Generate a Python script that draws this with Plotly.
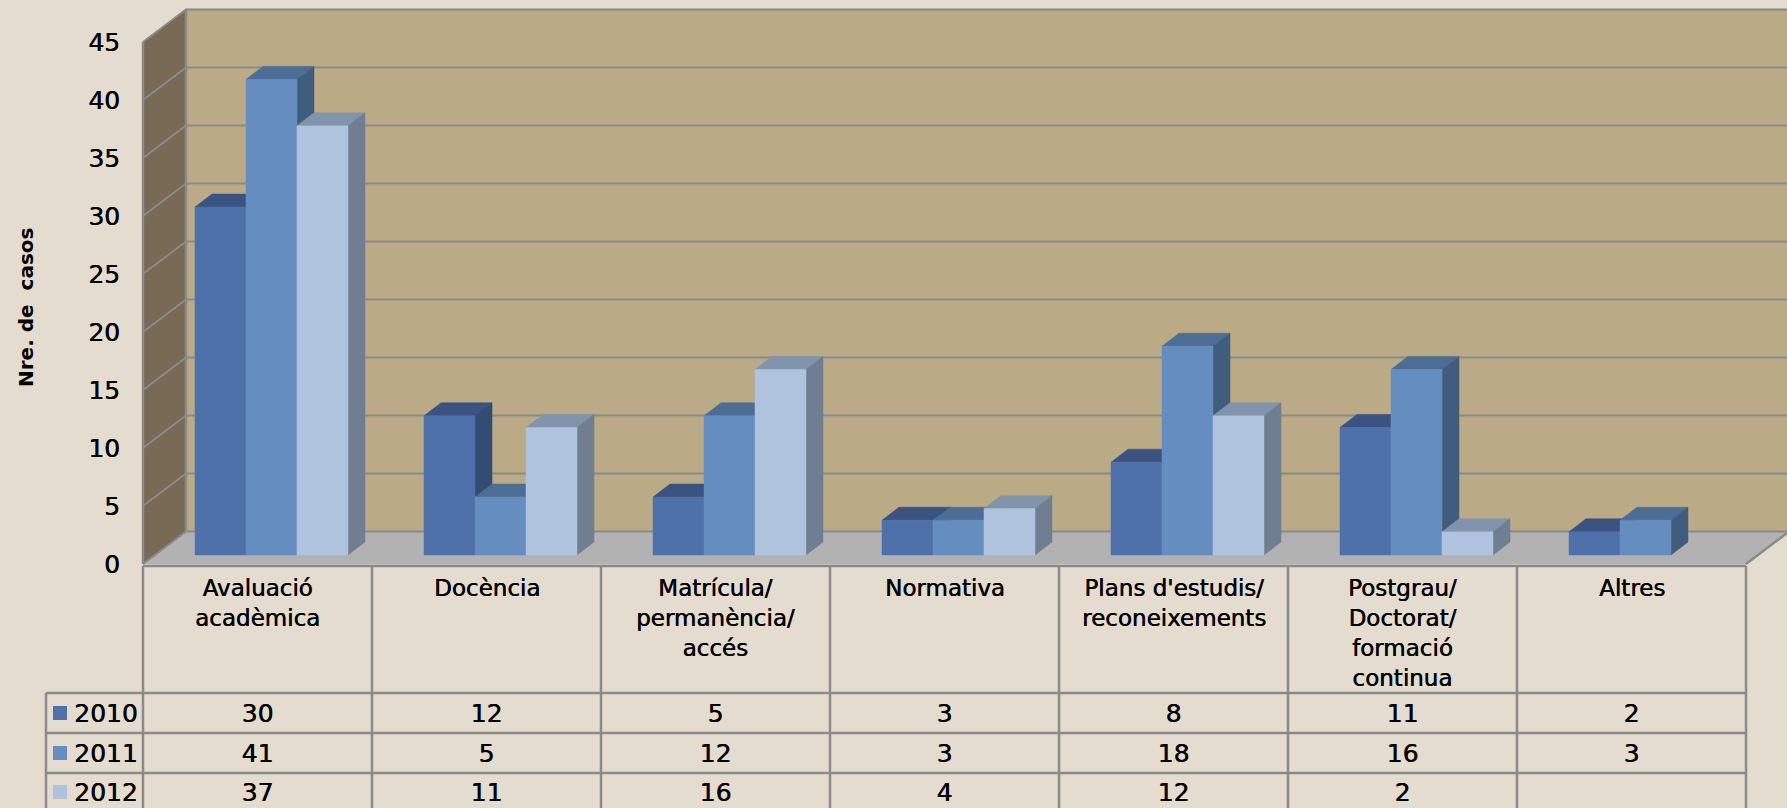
# Gràfic de columnes "3D" amb taula de dades a sota (Nre. de casos per tema i any)

import plotly.graph_objects as go

categories = [
    "Avaluació<br>acadèmica",
    "Docència",
    "Matrícula/<br>permanència/<br>accés",
    "Normativa",
    "Plans d'estudis/<br>reconeixements",
    "Postgrau/<br>Doctorat/<br>formació<br>continua",
    "Altres",
]
years = ["2010", "2011", "2012"]
values_2010 = [30, 12, 5, 3, 8, 11, 2]
values_2011 = [41, 5, 12, 3, 18, 16, 3]
values_2012 = [37, 11, 16, 4, 12, 2, None]
y_ticks = [0, 5, 10, 15, 20, 25, 30, 35, 40, 45]

BG = "#E3DCCF"
WALL_BACK = "#BAAA86"
WALL_SIDE = "#786A54"
FLOOR = "#B2B2B2"
GRID = "#8A8A8A"
FONT = "DejaVu Sans"
HEAVY = "0.5px 0 0 #000000"   # the reference text is a bit heavier than regular

# colors: front, top, side
SERIES_COLORS = [
    ("#4F71A9", "#3A5381", "#344B73"),
    ("#668DC0", "#4C6D94", "#415D7E"),
    ("#AFC3DE", "#8194AB", "#6F7E90"),
]

W, H = 1787, 808
PX_X0, PX_Y0 = 143, 564   # pixel of front-left corner (category 0, value 0)
PX_CAT, PX_UNIT = 229, 11.6


def yv(px):
    return (PX_Y0 - px) / PX_UNIT


def xv(px):
    return (px - PX_X0) / PX_CAT


N = len(categories)
WALL_DX, WALL_DY = 43 / PX_CAT, 32.5 / PX_UNIT   # depth of the walls
BAR_DX, BAR_DY = 17 / PX_CAT, 13 / PX_UNIT       # depth of each bar
BAR_W = 51 / PX_CAT
BAR_OFFSET = 52 / PX_CAT
BAR_LIFT = 9 / PX_UNIT

label_font = dict(family=FONT, size=23, color="#000000", shadow=HEAVY)
number_font = dict(family=FONT, size=25, color="#000000", shadow=HEAVY)


def polygon_trace(xs, ys, color, name=""):
    return go.Scatter(
        x=xs, y=ys, mode="lines", fill="toself", fillcolor=color,
        line=dict(color=color, width=0.5), name=name,
        hoverinfo="skip", showlegend=False,
    )


def line_trace(xs, ys, color=GRID, width=2):
    return go.Scatter(
        x=xs, y=ys, mode="lines", line=dict(color=color, width=width),
        hoverinfo="skip", showlegend=False,
    )


fig = go.Figure()

# walls and floor
top = y_ticks[-1]
fig.add_trace(polygon_trace([WALL_DX, N + WALL_DX, N + WALL_DX, WALL_DX, WALL_DX],
                            [WALL_DY, WALL_DY, top + WALL_DY, top + WALL_DY, WALL_DY], WALL_BACK))
fig.add_trace(polygon_trace([0, WALL_DX, WALL_DX, 0, 0],
                            [0, WALL_DY, top + WALL_DY, top, 0], WALL_SIDE))
fig.add_trace(polygon_trace([0, WALL_DX, N + WALL_DX, N, 0],
                            [0, WALL_DY, WALL_DY, 0, 0], FLOOR))

# gridlines
grid_x, grid_y = [], []
for v in y_ticks:
    grid_x += [0, WALL_DX, N + WALL_DX, None]
    grid_y += [v, v + WALL_DY, v + WALL_DY, None]
fig.add_trace(line_trace(grid_x, grid_y))
fig.add_trace(line_trace([WALL_DX, WALL_DX, None, 0, 0, None, N, N + WALL_DX],
                         [WALL_DY, top + WALL_DY, None, 0, top, None, 0, WALL_DY], width=2.5))

# bars, painted left to right so that the nearer faces hide the others
all_values = [values_2010, values_2011, values_2012]
for s, values in enumerate(all_values):
    front_c, top_c, side_c = SERIES_COLORS[s]
    fx, fy, tx, ty, sx, sy = [], [], [], [], [], []
    for i, v in enumerate(values):
        if v is None:
            continue
        x0 = i + BAR_OFFSET + s * BAR_W
        x1 = x0 + BAR_W
        y0 = BAR_LIFT
        y1 = v + BAR_LIFT
        fx += [x0, x1, x1, x0, x0, None]
        fy += [y0, y0, y1, y1, y0, None]
        tx += [x0, x1, x1 + BAR_DX, x0 + BAR_DX, x0, None]
        ty += [y1, y1, y1 + BAR_DY, y1 + BAR_DY, y1, None]
        sx += [x1, x1 + BAR_DX, x1 + BAR_DX, x1, x1, None]
        sy += [y0, y0 + BAR_DY, y1 + BAR_DY, y1, y0, None]
    fig.add_trace(polygon_trace(tx, ty, top_c, years[s] + " top"))
    fig.add_trace(polygon_trace(sx, sy, side_c, years[s] + " side"))
    fig.add_trace(polygon_trace(fx, fy, front_c, years[s]))

# data table grid
ROW_TOP = 693
row_lines = [693, 733, 773]
table_x, table_y = [0, N, None], [yv(566), yv(566), None]
for px in row_lines:
    table_x += [xv(46), N, None]
    table_y += [yv(px), yv(px), None]
for i in range(N + 1):
    table_x += [i, i, None]
    table_y += [yv(566), yv(H), None]
table_x += [xv(46), xv(46)]
table_y += [yv(ROW_TOP), yv(H)]
fig.add_trace(line_trace(table_x, table_y, width=2.5))

# data table values and legend keys
row_centers = [713, 753, 792]
for s, values in enumerate(all_values):
    fig.add_trace(go.Scatter(
        x=[i + 0.5 for i in range(N)],
        y=[yv(row_centers[s] + 3)] * N,   # text traces sit a little above their point
        mode="text",
        text=["" if v is None else str(v) for v in values],
        textfont=number_font,
        hoverinfo="skip", showlegend=False,
    ))
    fig.add_trace(go.Scatter(
        x=[xv(60)], y=[yv(row_centers[s])], mode="markers",
        marker=dict(symbol="square", size=14, color=SERIES_COLORS[s][0]),
        hoverinfo="skip", showlegend=False,
    ))
    fig.add_annotation(
        x=xv(72), y=yv(row_centers[s]), text=years[s], showarrow=False,
        xanchor="left", yanchor="middle", font=number_font,
    )

for i, label in enumerate(categories):
    fig.add_annotation(
        x=i + 0.5, y=yv(573), text=label, showarrow=False,
        xanchor="center", yanchor="top", align="center", font=label_font,
    )

fig.add_annotation(
    x=xv(26), y=yv(308), text="<b>Nre. de  casos</b>", textangle=-90, showarrow=False,
    font=dict(family=FONT, size=20, color="#000000"),
)

fig.update_layout(
    width=W,
    height=H,
    margin=dict(t=0, b=0, l=0, r=0),
    paper_bgcolor=BG,
    plot_bgcolor=BG,
    showlegend=False,
    font=dict(family=FONT, color="#000000"),
    xaxis=dict(visible=False, range=[xv(0), xv(W)], fixedrange=True),
    yaxis=dict(
        range=[yv(H), yv(0)],
        anchor="free",
        position=120 / W,
        tickvals=y_ticks,
        showgrid=False,
        zeroline=False,
        showline=False,
        ticks="",
        tickfont=number_font,
        fixedrange=True,
    ),
)

# the page's default body margin would push the figure 8px in
fig.write_html(
    "out.html",
    config=dict(displayModeBar=False),
    post_script="document.body.style.margin='0';",
)
